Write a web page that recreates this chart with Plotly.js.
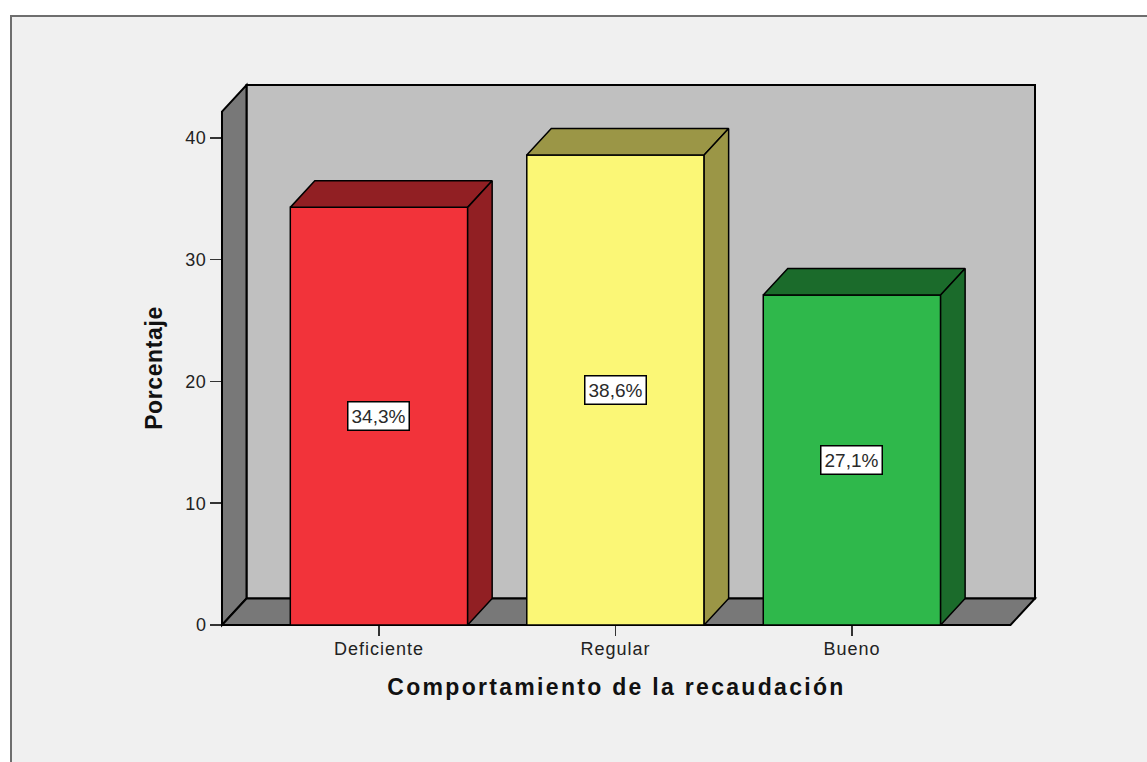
<!DOCTYPE html>
<html>
<head>
<meta charset="utf-8">
<script src="https://cdn.plot.ly/plotly-3.0.1.min.js"></script>
<style>
html,body{margin:0;padding:0;background:#fff;overflow:hidden}
#chart{width:1147px;height:762px}
.xtitle{letter-spacing:2.3px;translate:-12px 0}
.ytitle{letter-spacing:0.6px;translate:0 13px}
.xtick text{letter-spacing:1px}
.ytick text{letter-spacing:.5px}
</style>
</head>
<body>
<div id="chart"></div>
<script>
const categories = ['Deficiente', 'Regular', 'Bueno'];
const values = [34.3, 38.6, 27.1];
const faceColors = ['#f2333a', '#fbf776', '#2fb84b'];
const sideColors = ['#911f23', '#9b9646', '#1b6b2b'];
const yTicks = [0, 10, 20, 30, 40];
const xTitle = 'Comportamiento de la recaudación';
const yTitle = 'Porcentaje';

const barWidth = 0.75;
const depthX = 0.1036;
const depthY = 2.18;
const xMin = -0.6638, xFrontMax = 2.6705, xMax = xFrontMax + depthX;
const yMax = 44.35, yFrontMax = yMax - depthY;
const positions = categories.map((_, i) => i);

const px = x => (x - xMin) / (xMax - xMin);
const py = y => y / yMax;
const path = pts => 'M' + pts.map(p => px(p[0]) + ',' + py(p[1])).join('L') + 'Z';
const wall = (pts, fill) => ({type: 'path', xref: 'paper', yref: 'paper', layer: 'below',
  path: path(pts), fillcolor: fill, line: {color: '#000', width: 2}});

const traces = [{
  type: 'bar', x: positions, y: values, width: barWidth, cliponaxis: false,
  marker: {color: faceColors, line: {color: '#000', width: 1.5}}, hoverinfo: 'skip', showlegend: false
}];
values.forEach((v, i) => {
  const l = i - barWidth / 2, r = i + barWidth / 2;
  const top = {x: [l, l + depthX, r + depthX, r, l], y: [v, v + depthY, v + depthY, v, v]};
  const side = {x: [r, r + depthX, r + depthX, r, r], y: [v, v + depthY, depthY, 0, v]};
  [top, side].forEach(f => traces.push({
    type: 'scatter', mode: 'lines', x: f.x, y: f.y, fill: 'toself', fillcolor: sideColors[i],
    line: {color: '#000', width: 1.5}, cliponaxis: false, hoverinfo: 'skip', showlegend: false
  }));
});

const W = 1147, H = 762, L = 222, R = 1035, T = 85, B = 625;
const layout = {
  width: W, height: H,
  margin: {l: L, r: W - R, t: T, b: H - B, pad: 0},
  paper_bgcolor: '#ffffff', plot_bgcolor: 'rgba(0,0,0,0)',
  showlegend: false, hovermode: false,
  font: {family: '"Liberation Sans", Arial, sans-serif', color: '#1a1a1a'},
  xaxis: {
    range: [xMin, xMax], tickmode: 'array', tickvals: positions, ticktext: categories,
    ticks: 'outside', ticklen: 10, tickwidth: 1.5, tickcolor: '#333', showgrid: false, zeroline: false,
    showline: false, tickfont: {size: 18, color: '#222'}, ticklabelstandoff: -3,
    title: {text: xTitle, standoff: 21, font: {size: 23, color: '#111', weight: 700}}
  },
  yaxis: {
    range: [0, yMax], tickmode: 'array', tickvals: yTicks, ticktext: yTicks.map(String),
    ticks: 'outside', ticklen: 11, tickwidth: 1.5, tickcolor: '#333', showgrid: false, zeroline: false,
    showline: false, tickfont: {size: 18, color: '#222'},
    title: {text: yTitle, standoff: 16, font: {size: 23, color: '#111', weight: 700}}
  },
  shapes: [
    {type: 'rect', xref: 'paper', yref: 'paper', layer: 'below',
     x0: (11 - L) / (R - L), x1: (W + 10 - L) / (R - L),
     y0: (B - H - 10) / (B - T), y1: (B - 16) / (B - T),
     fillcolor: '#f0f0f0', line: {color: '#6e6e6e', width: 2}},
    wall([[xMin + depthX, depthY], [xMax, depthY], [xMax, yMax], [xMin + depthX, yMax]], '#c0c0c0'),
    wall([[xMin, 0], [xMin + depthX, depthY], [xMin + depthX, yMax], [xMin, yFrontMax]], '#787878'),
    wall([[xMin, 0], [xFrontMax, 0], [xMax, depthY], [xMin + depthX, depthY]], '#787878')
  ],
  annotations: values.map((v, i) => ({
    x: i, y: v / 2, xref: 'x', yref: 'y', showarrow: false,
    text: v.toFixed(1).replace('.', ',') + '%',
    font: {size: 19, color: '#2a2a2a'}, bgcolor: '#ffffff', bordercolor: '#000', borderwidth: 1.5, borderpad: 3
  }))
};
Plotly.newPlot('chart', traces, layout, {displayModeBar: false, staticPlot: true});
</script>
</body>
</html>
